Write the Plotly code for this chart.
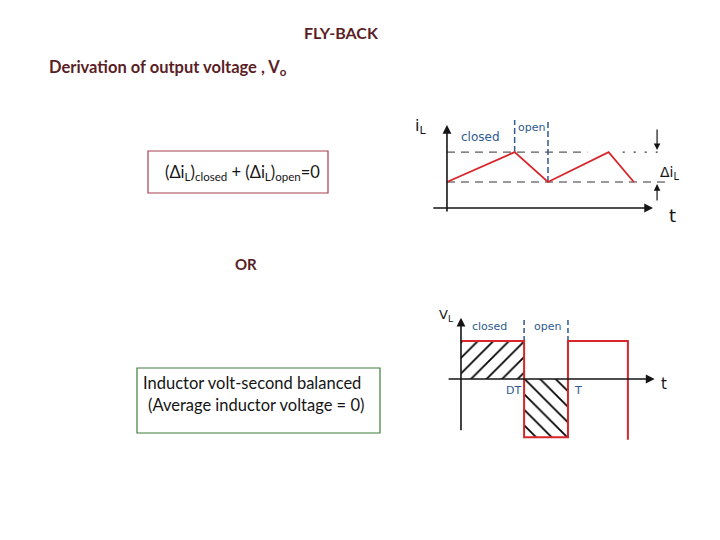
import plotly.graph_objects as go

# ---------- data ----------
# inductor current waveform (top-right sketch)
t_i = [0, 0.67, 1.0, 1.6, 1.85]
i_L = [1.0, 2.15, 1.0, 2.15, 1.0]
i_max = 2.15
i_min = 1.0
D1 = 0.67

# inductor voltage waveform (bottom-right sketch)
t_v = [0, 0.59, 0.59, 1.0, 1.0, 1.56, 1.56]
v_L = [1.0, 1.0, -1.53, -1.53, 1.0, 1.0, -1.6]
D2 = 0.59
v_hi = 1.0
v_lo = -1.53

TXT = "#5a1e26"
BLUE = "#2e5a8f"
RED = "#d8262b"
INK = "#151515"

OFF = 8  # page margin around the figure
W, H = 720, 540
def px(x):
    return (x - OFF) / W
def py(y):
    return 1 - (y - OFF) / H

fig = go.Figure()

# ---- current diagram (axes x / y) ----
fig.add_trace(go.Scatter(x=[0, 1.39], y=[i_max, i_max], mode="lines",
                         line=dict(color="#333", width=1, dash="8px,6px"), xaxis="x", yaxis="y"))
fig.add_trace(go.Scatter(x=[1.74, 2.14], y=[i_max, i_max], mode="lines",
                         line=dict(color="#333", width=1.3, dash="2px,9px"), xaxis="x", yaxis="y"))
fig.add_trace(go.Scatter(x=[0, 2.19], y=[i_min, i_min], mode="lines",
                         line=dict(color="#333", width=1, dash="8px,6px"), xaxis="x", yaxis="y"))
fig.add_trace(go.Scatter(x=[D1, D1], y=[i_max, 3.38], mode="lines",
                         line=dict(color=BLUE, width=1.5, dash="6px,3px"), xaxis="x", yaxis="y"))
fig.add_trace(go.Scatter(x=[1.0, 1.0], y=[i_min, 3.38], mode="lines",
                         line=dict(color=BLUE, width=1.5, dash="6px,3px"), xaxis="x", yaxis="y"))
fig.add_trace(go.Scatter(x=t_i, y=i_L, mode="lines",
                         line=dict(color=RED, width=1.8), xaxis="x", yaxis="y"))

# ---- voltage diagram (axes x2 / y2) ----
fig.add_trace(go.Scatter(x=[0, D2, D2, 0, 0], y=[0, 0, v_hi, v_hi, 0], mode="lines",
                         fill="toself", fillcolor="rgba(0,0,0,0)",
                         fillpattern=dict(shape="/", size=11, solidity=0.16, fgcolor="black",
                                          fgopacity=1, bgcolor="white"),
                         line=dict(width=0), xaxis="x2", yaxis="y2"))
fig.add_trace(go.Scatter(x=[D2, 1.0, 1.0, D2, D2], y=[0, 0, v_lo, v_lo, 0], mode="lines",
                         fill="toself", fillcolor="rgba(0,0,0,0)",
                         fillpattern=dict(shape="\\", size=11, solidity=0.16, fgcolor="black",
                                          fgopacity=1, bgcolor="white"),
                         line=dict(width=0), xaxis="x2", yaxis="y2"))
fig.add_trace(go.Scatter(x=[D2, D2], y=[v_hi, 1.6], mode="lines",
                         line=dict(color=BLUE, width=1.5, dash="5px,3px"), xaxis="x2", yaxis="y2"))
fig.add_trace(go.Scatter(x=[1.0, 1.0], y=[v_hi, 1.6], mode="lines",
                         line=dict(color=BLUE, width=1.5, dash="5px,3px"), xaxis="x2", yaxis="y2"))
fig.add_trace(go.Scatter(x=t_v, y=v_L, mode="lines",
                         line=dict(color=RED, width=2), xaxis="x2", yaxis="y2"))

ann = []
def arrow(x0, y0, x1, y1, xr, yr, w=1.6):
    ann.append(dict(x=x1, y=y1, ax=x0, ay=y0, xref=xr, yref=yr, axref=xr, ayref=yr,
                    showarrow=True, arrowhead=2, arrowsize=1.1, arrowwidth=w,
                    arrowcolor=INK, text=""))

# axes of current diagram
arrow(0, -0.19, 0, 3.19, "x", "y")
arrow(-0.15, 0, 2.04, 0, "x", "y")
arrow(2.08, 3.08, 2.08, 2.23, "x", "y", 1.2)
arrow(2.08, 0.23, 2.08, 0.92, "x", "y", 1.2)
# axes of voltage diagram
arrow(0, -1.39, 0, 1.61, "x2", "y2")
arrow(-0.13, 0, 1.81, 0, "x2", "y2")

def lab(x, y, text, xr, yr, size=14, color=INK, xa="center"):
    ann.append(dict(x=x, y=y, xref=xr, yref=yr, text=text, showarrow=False, xanchor=xa,
                    font=dict(family="DejaVu Sans", size=size, color=color)))

lab(-0.26, 3.12, "i<sub>L</sub>", "x", "y", 16)
lab(2.23, -0.3, "t", "x", "y", 18)
lab(2.2, 1.35, "Δi<sub>L</sub>", "x", "y", 14)
lab(0.33, 2.72, "closed", "x", "y", 12, BLUE)
lab(0.84, 3.08, "open", "x", "y", 11, BLUE)
lab(-0.14, 1.68, "V<sub>L</sub>", "x2", "y2", 13)
lab(0.27, 1.38, "closed", "x2", "y2", 11, BLUE)
lab(0.81, 1.38, "open", "x2", "y2", 11, BLUE)
lab(0.58, -0.3, "DT", "x2", "y2", 11, BLUE, "right")
lab(1.04, -0.3, "T", "x2", "y2", 11, BLUE, "left")
lab(1.9, -0.12, "t", "x2", "y2", 15)

def ptxt(xp, yp, text, size, color, bold=False, xa="center"):
    ann.append(dict(x=px(xp), y=py(yp), xref="paper", yref="paper", text=text,
                    showarrow=False, xanchor=xa, yanchor="middle", align="left",
                    font=dict(family="Lato", size=size, color=color, weight="bold" if bold else "normal")))

ptxt(341, 33, "FLY-BACK", 16, TXT, True)
ptxt(47, 67, "Derivation of output voltage , V<sub>o</sub>", 16.5, TXT, True, "left")
ptxt(242, 172, "(Δi<sub>L</sub>)<sub>closed</sub> + (Δi<sub>L</sub>)<sub>open</sub>=0", 16.5, INK)
ptxt(246, 264, "OR", 15, TXT, True)
ptxt(141, 383, "Inductor volt-second balanced", 16.5, INK, False, "left")
ptxt(146, 405, "(Average inductor voltage = 0)", 16.5, INK, False, "left")

shapes = [
    dict(type="rect", xref="paper", yref="paper", x0=px(148), x1=px(328),
         y0=py(193), y1=py(151), line=dict(color="#a8404e", width=1.2)),
    dict(type="rect", xref="paper", yref="paper", x0=px(137), x1=px(380),
         y0=py(433), y1=py(368), line=dict(color="#3d7d3a", width=1.2)),
]

ax_hidden = dict(visible=False, showgrid=False, zeroline=False, fixedrange=True)
fig.update_layout(
    width=W, height=H, margin=dict(l=0, r=0, t=0, b=0),
    paper_bgcolor="white", plot_bgcolor="rgba(0,0,0,0)", showlegend=False,
    xaxis=dict(ax_hidden, domain=[px(420), px(700)], range=[-0.267, 2.505]),
    yaxis=dict(ax_hidden, domain=[py(240), py(100)], range=[-1.231, 4.154]),
    xaxis2=dict(ax_hidden, domain=[px(420), px(700)], range=[-0.383, 2.234], anchor="y2"),
    yaxis2=dict(ax_hidden, domain=[py(450), py(290)], range=[-1.868, 2.342], anchor="x2"),
    annotations=ann, shapes=shapes,
)

fig.write_html("out.html")
